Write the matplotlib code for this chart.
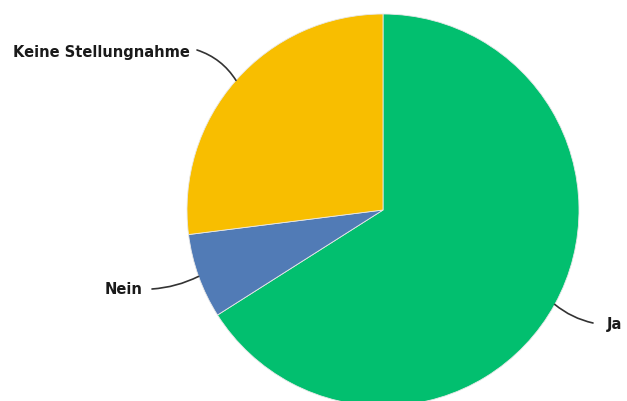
import numpy as np
import matplotlib.pyplot as plt

# ============================ #
# Data                         #
# ============================ #
labels = ["Ja", "Nein", "Keine Stellungnahme"]
values = [66, 7, 27]
colors = ["#02BF6F", "#517BB6", "#F8BE00"]

# figure laid out in pixel units (y up)
W, H = 627, 401
center = (383, 191)
radius = 196

fig = plt.figure(figsize=(W / 100, H / 100), dpi=100)
ax = fig.add_axes([0, 0, 1, 1])

wedges, _ = ax.pie(
    values,
    colors=colors,
    startangle=90,
    counterclock=False,
    center=center,
    radius=radius,
    wedgeprops=dict(edgecolor="#E8E8E8", linewidth=0.6),
)
ax.set_xlim(0, W)
ax.set_ylim(0, H)
ax.set_aspect("equal")
ax.axis("off")

# label text position, line start, curvature
label_cfg = {
    "Ja": dict(text=(607, 76), start=(593, 78), ha="left", rad=-0.12),
    "Nein": dict(text=(143, 111), start=(152, 112), ha="right", rad=0.1),
    "Keine Stellungnahme": dict(text=(190, 349), start=(197, 351), ha="right", rad=-0.18),
}

for w, lab in zip(wedges, labels):
    mid = np.deg2rad((w.theta1 + w.theta2) / 2)
    edge = (center[0] + radius * np.cos(mid), center[1] + radius * np.sin(mid))
    cfg = label_cfg[lab]
    ax.annotate(
        "",
        xy=edge,
        xytext=cfg["start"],
        arrowprops=dict(arrowstyle="-", color="#333333", lw=1.2,
                        shrinkA=0, shrinkB=0,
                        connectionstyle=f"arc3,rad={cfg['rad']}"),
    )
    ax.text(cfg["text"][0], cfg["text"][1], lab, ha=cfg["ha"], va="center",
            fontsize=10.5, fontweight="bold", color="#1a1a1a")

fig.savefig("out.png", dpi=100)
